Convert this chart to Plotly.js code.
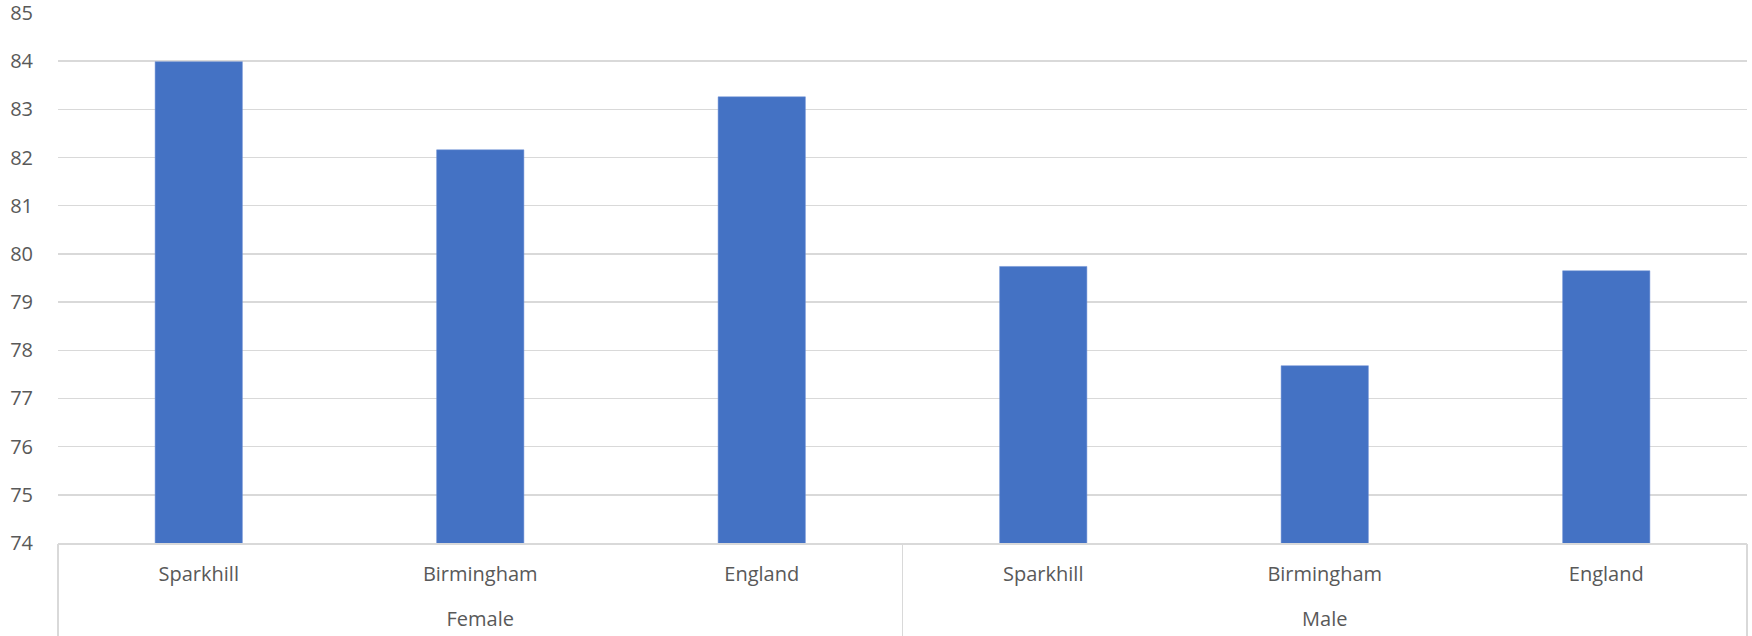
<!DOCTYPE html>
<html>
<head>
<meta charset="utf-8">
<script src="https://cdn.plot.ly/plotly-3.0.1.min.js"></script>
<style>html,body{margin:0;padding:0;background:#fff;}#chart{width:1752px;height:636px;}</style>
</head>
<body>
<div id="chart"></div>
<script>
var sexes = ["Female","Female","Female","Male","Male","Male"];
var areas = ["Sparkhill","Birmingham","England","Sparkhill","Birmingham","England"];
var lifeExpectancy = [83.99, 82.16, 83.26, 79.74, 77.68, 79.65];
var groups = ["Female","Male"];

// positions derived from the arrays
var idx = areas.map(function(_, i){ return i; });
var groupCenters = groups.map(function(g){
  var ii = idx.filter(function(i){ return sexes[i] === g; });
  return (ii[0] + ii[ii.length-1]) / 2;
});
var boundaries = [-0.5];
groups.forEach(function(g){
  var ii = idx.filter(function(i){ return sexes[i] === g; });
  boundaries.push(ii[ii.length-1] + 0.5);
});

var fontFam = '"Open Sans", Lato, sans-serif';
var grey = '#595959';

var traces = [
  {
    type: 'bar', x: idx, y: lifeExpectancy, width: 0.31,
    marker: {color: '#4472C4', line: {color: '#6a8fd4', width: 0.5}},
    customdata: sexes, hovertext: areas, textposition: 'none',
    hovertemplate: '%{customdata} %{hovertext}: %{y}<extra></extra>'
  },
  {type: 'scatter', x: groupCenters, y: [74, 74], xaxis: 'x2', mode: 'none', hoverinfo: 'skip', showlegend: false},
  {type: 'scatter', x: boundaries, y: [74, 74, 74], xaxis: 'x3', mode: 'none', hoverinfo: 'skip', showlegend: false}
];

var layout = {
  width: 1752, height: 636,
  margin: {l: 58, r: 5, t: 13, b: 93},
  paper_bgcolor: '#ffffff', plot_bgcolor: '#ffffff',
  showlegend: false,
  font: {family: fontFam, size: 20, color: grey},
  xaxis: {
    range: [-0.5, areas.length - 0.5],
    tickmode: 'array', tickvals: idx, ticktext: areas,
    showline: true, linecolor: '#d9d9d9', linewidth: 1.5,
    showgrid: false, zeroline: false, ticks: '',
    ticklabelstandoff: 12,
    tickfont: {family: fontFam, size: 20, color: grey}
  },
  xaxis2: {
    overlaying: 'x', side: 'bottom', matches: 'x',
    tickmode: 'array', tickvals: groupCenters, ticktext: groups,
    showline: false, showgrid: false, zeroline: false, ticks: '',
    ticklabelstandoff: 62,
    tickfont: {family: fontFam, size: 20, color: grey}
  },
  xaxis3: {
    overlaying: 'x', side: 'bottom', matches: 'x',
    tickmode: 'array', tickvals: boundaries,
    showticklabels: false,
    showline: false, showgrid: false, zeroline: false,
    ticks: 'outside', ticklen: 95, tickwidth: 1.5, tickcolor: '#d9d9d9'
  },
  yaxis: {
    range: [74, 85], dtick: 1, tick0: 74,
    showgrid: true, gridcolor: '#d9d9d9', gridwidth: 1.5,
    zeroline: false, showline: false,
    ticks: 'outside', ticklen: 20, tickcolor: 'rgba(0,0,0,0)',
    ticklabeloverflow: 'allow',
    tickfont: {family: fontFam, size: 20, color: grey}
  }
};

Plotly.newPlot('chart', traces, layout, {displayModeBar: false, staticPlot: true});
</script>
</body>
</html>
